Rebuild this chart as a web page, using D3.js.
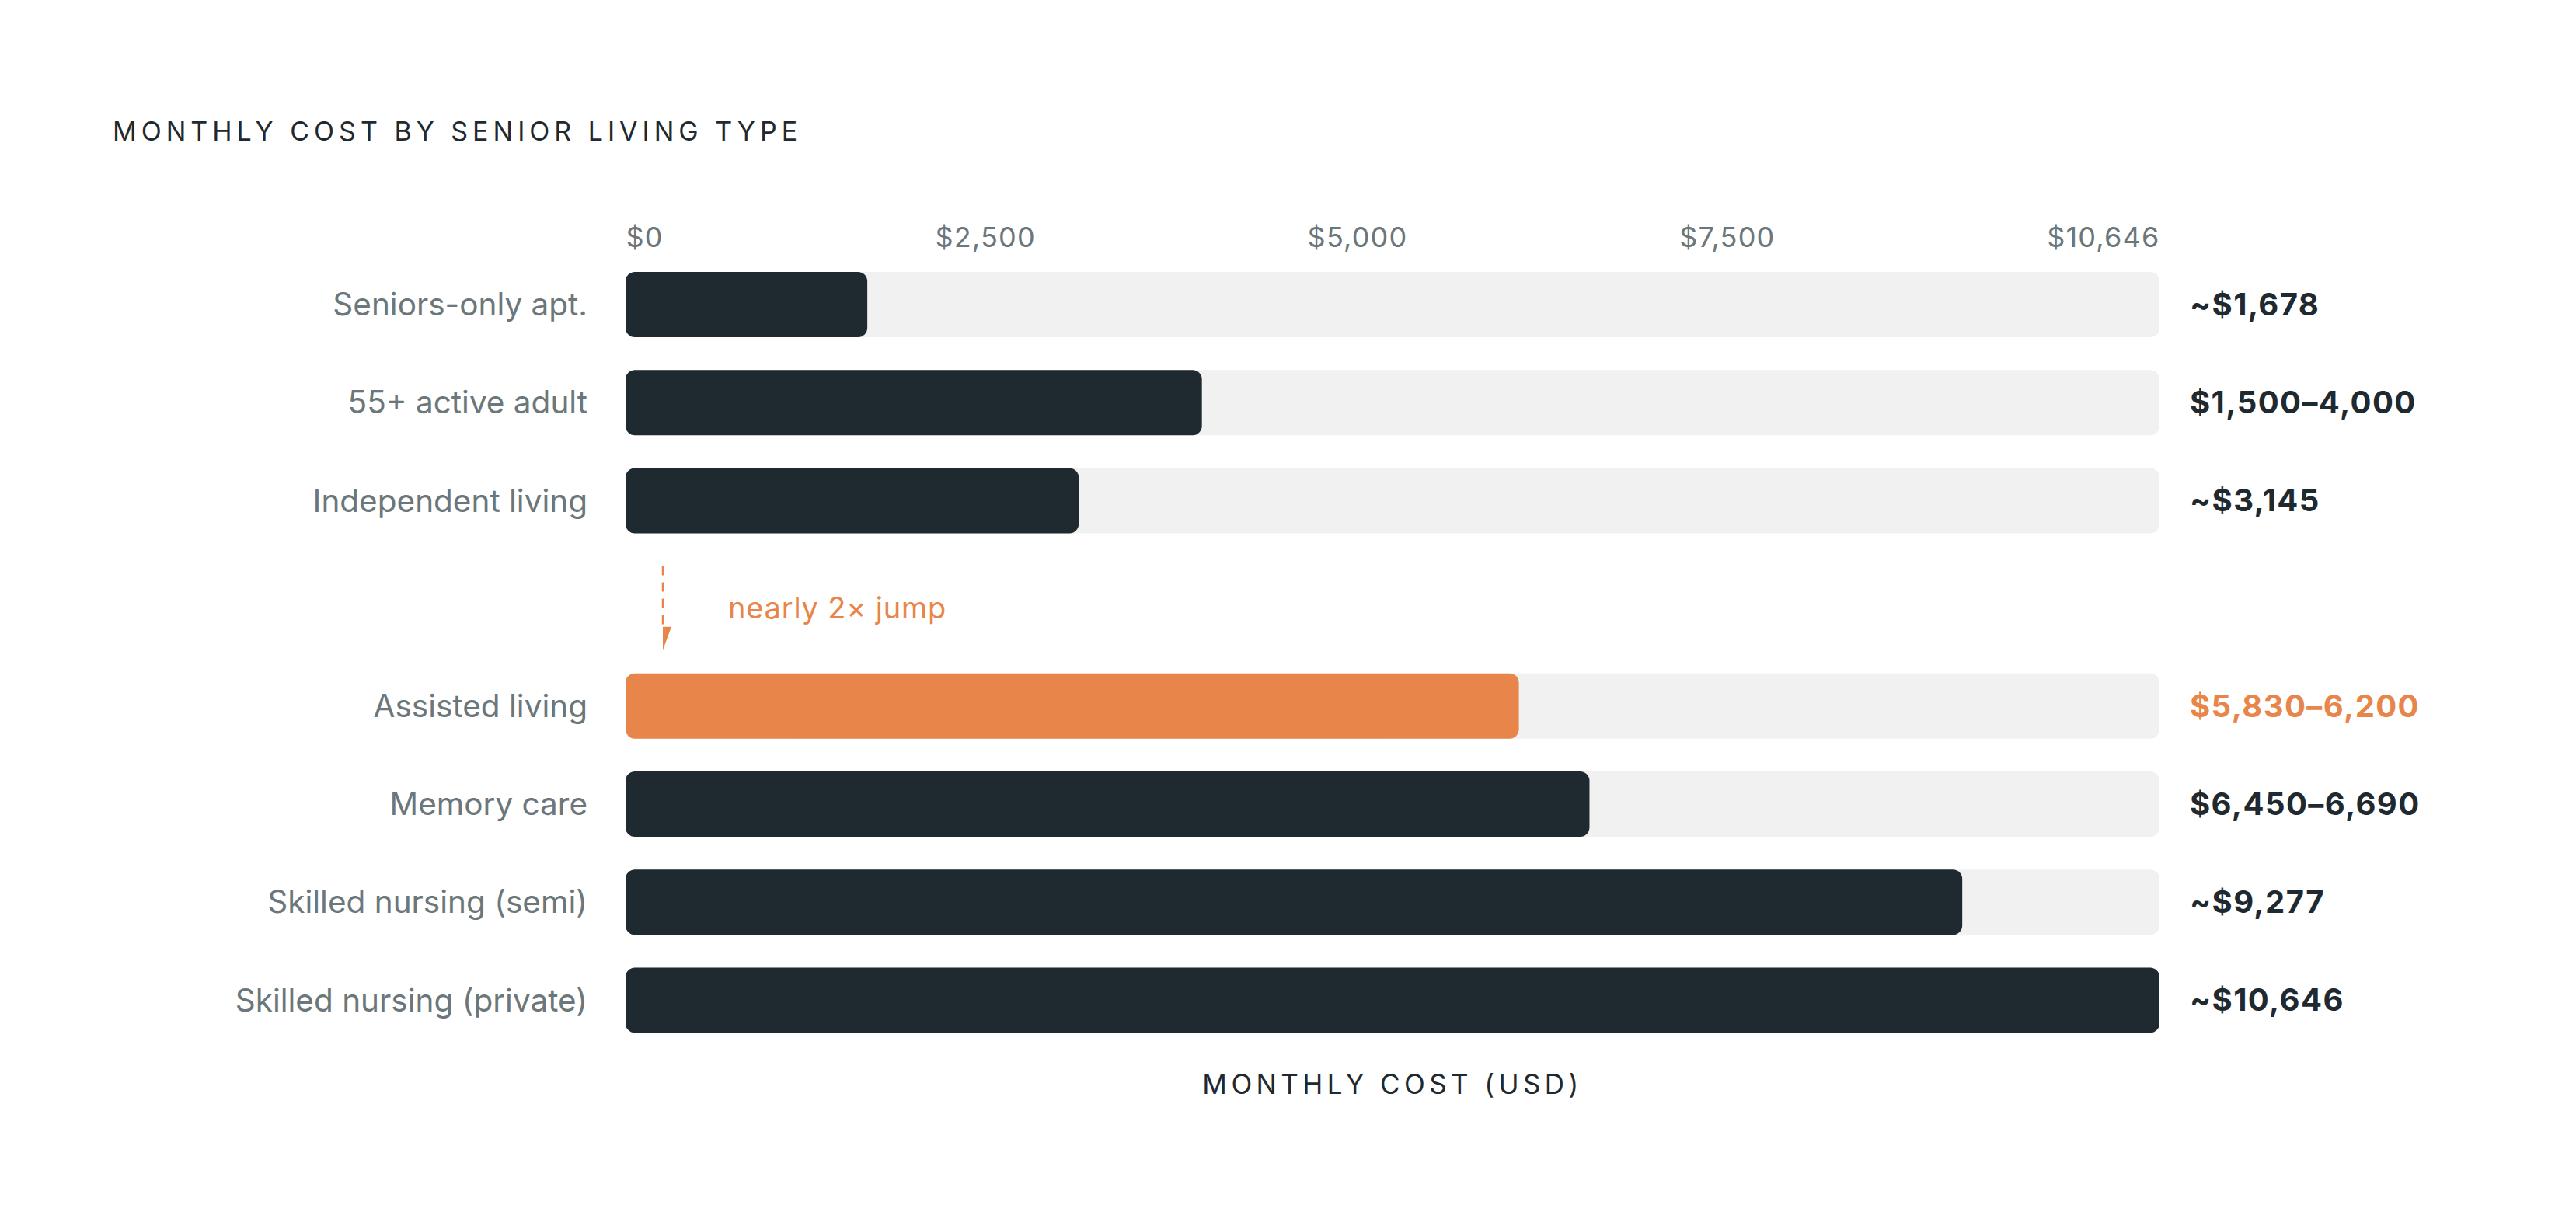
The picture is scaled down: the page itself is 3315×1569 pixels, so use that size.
<!DOCTYPE html>
<html>
<head>
<meta charset="utf-8">
<script src="https://cdn.jsdelivr.net/npm/d3@7"></script>
<style>
  html, body { margin: 0; padding: 0; background: #ffffff; }
  svg { display: block; font-family: "Inter", "DejaVu Sans", sans-serif; }
</style>
</head>
<body>
<svg id="chart" width="3315" height="1569" viewBox="0 0 3315 1569"></svg>
<script>
// data
const categories = [
  "Seniors-only apt.",
  "55+ active adult",
  "Independent living",
  "Assisted living",
  "Memory care",
  "Skilled nursing (semi)",
  "Skilled nursing (private)",
];
const costLow = [1678, 1500, 3145, 5830, 6450, 9277, 10646];
const costHigh = [1678, 4000, 3145, 6200, 6690, 9277, 10646];
const valueLabels = [
  "~$1,678",
  "$1,500\u20134,000",
  "~$3,145",
  "$5,830\u20136,200",
  "$6,450\u20136,690",
  "~$9,277",
  "~$10,646",
];
const tickValues = [0, 2500, 5000, 7500, 10646];
const highlight = "Assisted living";

const DARK = "#1f2a30",
  TRACK = "#f0f1f0",
  ORANGE = "#e8854a",
  GREY = "#6b777a";

const margin = { left: 805, right: 536, top: 350 };
const width = 3315 - margin.left - margin.right; // 1974
const rowStep = 126.2,
  barH = 84,
  gapAfter = 3, // extra space before "Assisted living" for the annotation
  gapSize = 1.095;

const svg = d3.select("#chart");

// title
svg
  .append("text")
  .attr("x", 145)
  .attr("y", 181)
  .attr("fill", DARK)
  .style("font-size", "34px")
  .style("letter-spacing", "6px")
  .text("MONTHLY COST BY SENIOR LIVING TYPE");

const x = d3.scaleLinear().domain([0, 10646]).range([0, width]);

// row slot -> y, leaving room for the callout between rows 3 and 4
const slot = (i) => i + (i >= gapAfter ? gapSize : 0);
const y = d3.scaleLinear().domain([0, 1]).range([0, rowStep]);

const g = svg
  .append("g")
  .attr("transform", "translate(" + margin.left + "," + margin.top + ")");

// top axis, labels only
const axis = g
  .append("g")
  .attr("transform", "translate(0,-32)")
  .call(d3.axisTop(x).tickValues(tickValues).tickSize(0).tickPadding(0).tickFormat(d3.format("$,")));
axis.select(".domain").remove();
axis
  .selectAll("text")
  .attr("fill", GREY)
  .style("font-family", "Inter, sans-serif")
  .style("font-size", "36px")
  .style("letter-spacing", "1.2px")
  .attr("dy", 0);

// the reference spreads its tick labels edge to edge (space-between),
// so shift them from the scale positions accordingly
const tickTexts = axis.selectAll("text").nodes();
const widths = tickTexts.map((t) => t.getComputedTextLength());
const gap = (width - d3.sum(widths)) / (widths.length - 1);
let cursor = 0;
tickTexts.forEach((t, i) => {
  d3.select(t)
    .attr("text-anchor", "start")
    .attr("x", cursor - x(tickValues[i]));
  cursor += widths[i] + gap;
});

const rows = g
  .selectAll(".row")
  .data(categories)
  .enter()
  .append("g")
  .attr("class", "row")
  .attr("transform", (d, i) => "translate(0," + y(slot(i)) + ")");

// background track
rows
  .append("rect")
  .attr("x", 0)
  .attr("y", 0)
  .attr("width", x(10646))
  .attr("height", barH)
  .attr("rx", 12)
  .attr("ry", 12)
  .attr("fill", TRACK);

// value bar (upper end of the range)
rows
  .append("rect")
  .attr("x", 0)
  .attr("y", 0)
  .attr("width", (d, i) => x(costHigh[i]))
  .attr("height", barH)
  .attr("rx", 12)
  .attr("ry", 12)
  .attr("fill", (d) => (d === highlight ? ORANGE : DARK));

// category labels
rows
  .append("text")
  .attr("x", -49)
  .attr("y", barH / 2)
  .attr("dy", "0.35em")
  .attr("text-anchor", "end")
  .attr("fill", GREY)
  .style("font-size", "40.5px")
  .text((d) => d);

// value labels
rows
  .append("text")
  .attr("x", x(10646) + 39)
  .attr("y", barH / 2)
  .attr("dy", "0.35em")
  .attr("fill", (d) => (d === highlight ? ORANGE : DARK))
  .style("font-size", "40px")
  .style("font-weight", 700)
  .style("letter-spacing", "1.4px")
  .text((d, i) => valueLabels[i]);

// callout between independent and assisted living
const gapTop = y(slot(gapAfter - 1)) + barH;
const gapBottom = y(slot(gapAfter));
const ax = 48;
const note = g.append("g").attr("class", "callout");
note
  .append("line")
  .attr("x1", ax)
  .attr("x2", ax)
  .attr("y1", gapTop + 42)
  .attr("y2", gapBottom - 60)
  .attr("stroke", ORANGE)
  .attr("stroke-width", 2.5)
  .attr("stroke-dasharray", "12 9");
note
  .append("path")
  .attr(
    "d",
    "M" + ax + "," + (gapBottom - 60) + "L" + (ax + 11) + "," + (gapBottom - 60) + "L" + ax + "," + (gapBottom - 30) + "Z"
  )
  .attr("fill", ORANGE);
note
  .append("text")
  .attr("x", 132)
  .attr("y", (gapTop + gapBottom) / 2 + 19)
  .attr("fill", ORANGE)
  .style("font-size", "38px")
  .style("letter-spacing", "0.8px")
  .text("nearly 2\u00d7 jump");

// x axis title
g.append("text")
  .attr("x", width / 2)
  .attr("y", 1408 - margin.top)
  .attr("text-anchor", "middle")
  .attr("fill", DARK)
  .style("font-size", "35px")
  .style("letter-spacing", "5.4px")
  .text("MONTHLY COST (USD)");
</script>
</body>
</html>
